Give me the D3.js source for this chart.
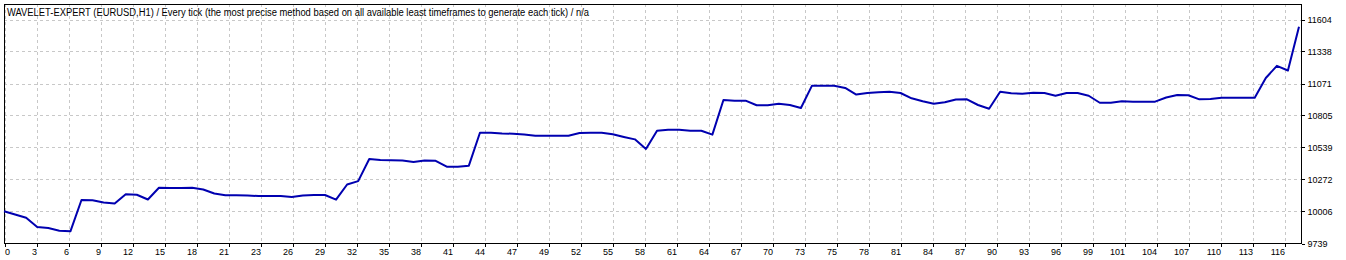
<!DOCTYPE html>
<html>
<head>
<meta charset="utf-8">
<script src="https://cdn.jsdelivr.net/npm/d3@7"></script>
<style>
    body { margin: 0; background: #ffffff; }
    svg { display: block; }
</style>
</head>
<body>
<div id="chart"></div>
<script>
// Chart caption
var title = "WAVELET-EXPERT (EURUSD,H1) / Every tick (the most precise method based on all available least timeframes to generate each tick) / n/a";

// Balance after each trade (trade number = array index)
var balance = [
    10003, 9976, 9949, 9872, 9864, 9841, 9836, 10097, 10095, 10076,
    10067, 10145, 10141, 10101, 10199, 10197, 10197, 10199, 10184, 10151,
    10137, 10136, 10135, 10130, 10130, 10130, 10122, 10135, 10139, 10139,
    10100, 10226, 10254, 10438, 10430, 10428, 10425, 10413, 10426, 10423,
    10374, 10374, 10383, 10657, 10657, 10651, 10649, 10642, 10632, 10632,
    10632, 10632, 10655, 10657, 10657, 10644, 10622, 10602, 10522, 10674,
    10682, 10682, 10674, 10674, 10641, 10930, 10924, 10924, 10886, 10886,
    10899, 10888, 10863, 11049, 11049, 11048, 11030, 10975, 10988, 10995,
    10999, 10988, 10944, 10919, 10899, 10911, 10934, 10935, 10888, 10857,
    10999, 10985, 10982, 10990, 10988, 10965, 10988, 10988, 10965, 10907,
    10907, 10919, 10916, 10916, 10916, 10950, 10972, 10969, 10935, 10938,
    10949, 10949, 10949, 10949, 11113, 11214, 11175, 11540
];

// Tick labels printed under the x axis and right of the y axis
var xLabels = [0, 3, 6, 9, 12, 15, 18, 21, 23, 26, 29, 32, 35, 38, 41, 44, 47, 49, 52, 55,
               58, 61, 64, 67, 70, 73, 75, 78, 81, 84, 87, 90, 93, 96, 99, 101, 104, 107, 110, 113, 116];
var yLabels = [9739, 10006, 10272, 10539, 10805, 11071, 11338, 11604];

function init() {
    var w = 1346; // Width of the SVG canvas
    var h = 260;  // Height of the SVG canvas
    var left = 4, right = 1301, top = 4, bottom = 243; // plot frame
    var gridStep = 32; // MT4 puts a grid line every 32 px
    var font = "'Liberation Sans', Arial, sans-serif";

    // Scales
    var xScale = d3.scaleLinear()
                    .domain([0, balance.length - 1])
                    .range([left, right - 2]);

    var xTickScale = d3.scalePoint()
                    .domain(xLabels)
                    .range([left, left + gridStep * (xLabels.length - 1)]);

    var yScale = d3.scaleLinear()
                    .domain([9739, 11729])
                    .range([bottom, top]);

    var svg = d3.select("#chart")
                .append("svg")
                .attr("width", w)
                .attr("height", h);

    svg.append("rect")
        .attr("width", w)
        .attr("height", h)
        .attr("fill", "#ffffff");

    // Vertical dashed grid
    svg.append("g")
        .attr("class", "x-grid")
        .attr("transform", "translate(0.5," + top + ")")
        .call(d3.axisBottom(xTickScale).tickSize(bottom - top).tickFormat(""))
        .call(function(g) {
            g.select(".domain").remove();
            g.selectAll("line")
                .attr("stroke", "#c8c8c8")
                .attr("stroke-dasharray", "3,3")
                .attr("shape-rendering", "crispEdges");
        });

    // Horizontal dashed grid
    svg.append("g")
        .attr("class", "y-grid")
        .attr("transform", "translate(" + left + ",0.5)")
        .call(d3.axisRight(yScale).tickValues(yLabels.slice(1)).tickSize(right - left).tickFormat(""))
        .call(function(g) {
            g.select(".domain").remove();
            g.selectAll("line")
                .attr("stroke", "#c8c8c8")
                .attr("stroke-dasharray", "3,3")
                .attr("shape-rendering", "crispEdges");
        });

    // Plot frame
    svg.append("rect")
        .attr("x", left + 0.5)
        .attr("y", top + 0.5)
        .attr("width", right - left)
        .attr("height", bottom - top)
        .attr("fill", "none")
        .attr("stroke", "#000000")
        .attr("shape-rendering", "crispEdges");

    // Balance line
    var line = d3.line()
                .x(function(d, i) { return xScale(i); })
                .y(function(d) { return yScale(d); });

    svg.append("path")
        .datum(balance)
        .attr("d", line)
        .attr("fill", "none")
        .attr("stroke", "#0000b0")
        .attr("stroke-width", 2)
        .attr("stroke-linejoin", "round");

    // x axis (labels end at their tick, first one starts at the frame)
    svg.append("g")
        .attr("class", "x-axis")
        .attr("transform", "translate(0.5," + (bottom + 0.5) + ")")
        .call(d3.axisBottom(xTickScale).tickSize(3).tickPadding(2))
        .call(function(g) {
            g.select(".domain").remove();
            g.selectAll("line").attr("stroke", "#000000").attr("shape-rendering", "crispEdges");
            g.selectAll("text")
                .attr("fill", "#000000")
                .attr("font-family", font)
                .attr("font-size", "9px")
                .attr("text-anchor", function(d, i) { return i === 0 ? "start" : "end"; });
        });

    // y axis on the right
    svg.append("g")
        .attr("class", "y-axis")
        .attr("transform", "translate(" + (right + 0.5) + ",0.5)")
        .call(d3.axisRight(yScale).tickValues(yLabels).tickSize(3).tickPadding(3).tickFormat(d3.format("d")))
        .call(function(g) {
            g.select(".domain").remove();
            g.selectAll("line").attr("stroke", "#000000").attr("shape-rendering", "crispEdges");
            g.selectAll("text")
                .attr("fill", "#000000")
                .attr("font-family", font)
                .attr("font-size", "9px");
        });

    // Caption inside the frame, squeezed to the width it has in the terminal
    svg.append("text")
        .attr("x", 7)
        .attr("y", 16)
        .attr("font-family", font)
        .attr("font-size", "10px")
        .attr("fill", "#000000")
        .attr("textLength", 582)
        .attr("lengthAdjust", "spacingAndGlyphs")
        .text(title);
}

window.onload = init;
</script>
</body>
</html>
